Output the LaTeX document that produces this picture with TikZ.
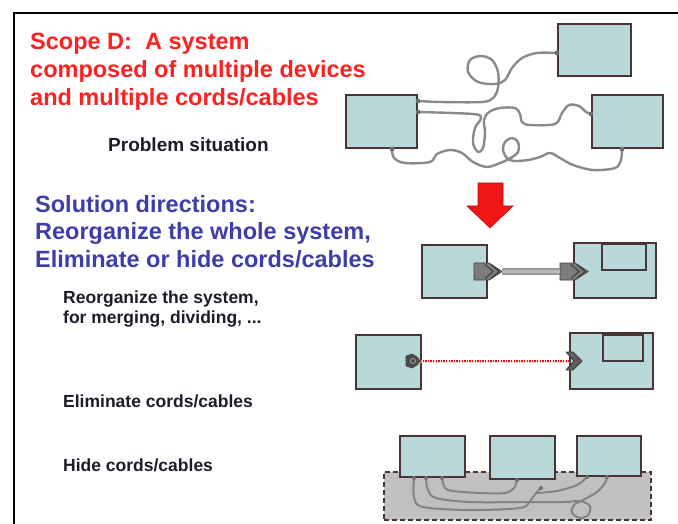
\documentclass[tikz,border=0pt]{standalone}
\usepackage{fontspec}
\setmainfont{Liberation Sans}
\usetikzlibrary{backgrounds,calc}

\definecolor{devfill}{RGB}{184,216,218}
\definecolor{devline}{RGB}{72,52,52}
\definecolor{cable}{RGB}{138,138,138}
\definecolor{titlered}{RGB}{255,32,32}
\definecolor{dirblue}{RGB}{62,62,168}
\definecolor{note}{RGB}{30,28,40}
\definecolor{hidegray}{RGB}{192,192,192}
\definecolor{plugfill}{RGB}{125,125,125}
\definecolor{plugline}{RGB}{66,56,56}
\definecolor{arrowred}{RGB}{240,22,22}

\tikzset{
  device/.style={draw=devline, fill=devfill, line width=2pt, inner sep=0pt},
  hider/.style={draw=devline, fill=hidegray, line width=1.6pt, dash pattern=on 5pt off 3pt, inner sep=0pt},
  cord/.style={draw=cable, line width=2.4pt, line cap=round, line join=round},
  thincord/.style={draw=cable!95!black, line width=2pt, line cap=round, line join=round},
  cordend/.style={fill=cable!80!black},
  headline/.style={anchor=base west, inner sep=0pt, text=titlered, font=\fontsize{23.5}{28}\selectfont\bfseries},
  dirline/.style={anchor=base west, inner sep=0pt, text=dirblue, font=\fontsize{23.5}{28}\selectfont\bfseries},
  caption/.style={anchor=base west, inner sep=0pt, text=note, font=\fontsize{17.5}{20}\selectfont\bfseries},
  plugpic/.pic={
    \filldraw[fill=plugfill, draw=plugline, line width=0.8pt]
      (0,-8.5) -- (15,-8.5) -- (28,0) -- (15,8.5) -- (0,8.5) -- cycle;
    \draw[plugline, line width=1pt, line join=round]
      (11,-7) -- (19,0) -- (11,7) (17,-7) -- (25,0) -- (17,7);
    \coordinate (-tip) at (28,0);
    \coordinate (-base) at (0,0);
  },
  jackpic/.pic={
    \filldraw[fill=plugfill!60!black, draw=plugline, line width=0.6pt]
      (0,-5) -- (6,-7) -- (11,-4) -- (14,0) -- (11,4) -- (6,7) -- (0,5) -- cycle;
    \draw[gray!70, line width=0.8pt] (7,0) circle (2.5pt);
    \coordinate (-tip) at (14,0);
  },
  chevpic/.pic={
    \filldraw[fill=plugfill!75!black, draw=plugline, line width=0.8pt, line join=round]
      (0,-9) -- (7,-9) -- (16,0) -- (7,9) -- (0,9) -- (8,0) -- cycle;
    \coordinate (-base) at (4,0);
  },
}

\begin{document}
\begin{tikzpicture}[x=1pt,y=-1pt]
\useasboundingbox (0,0) rectangle (678,524);

% ---- frame ----
\draw[line width=1.6pt, black] (14,524) -- (14,13) -- (678,13);

% ---- headings and captions ----
\node[headline] (h1) at (30,50) {Scope D:\ \ A system};
\node[headline] (h2) at (30,77.5) {composed of multiple devices};
\node[headline] (h3) at (30,105.5) {and multiple cords/cables};

\node[caption, font=\fontsize{19}{22}\selectfont\bfseries] (ps) at (108,152) {Problem situation};

\node[dirline] (d1) at (35,212) {Solution directions:};
\node[dirline] (d2) at (35,239.5) {Reorganize the whole system,};
\node[dirline] (d3) at (35,267) {Eliminate or hide cords/cables};

\node[caption] (c1) at (63,303) {Reorganize the system,};
\node[caption] (c2) at (63,323) {for merging, dividing, ...};
\node[caption] (c3) at (63,407) {Eliminate cords/cables};
\node[caption] (c4) at (63,471) {Hide cords/cables};

% ---- problem situation: three devices, tangled cords ----
\node[device, minimum width=73pt, minimum height=52pt] (A) at (594.5,50) {};
\node[device, minimum width=71pt, minimum height=53pt] (B) at (381.5,121.5) {};
\node[device, minimum width=71pt, minimum height=53pt] (C) at (627.5,121.5) {};

\coordinate (a1) at ($(A.west)+(0,3)$);
\coordinate (b1) at ($(B.north east)+(0,7)$);
\coordinate (b2) at ($(B.north east)+(0,18)$);
\coordinate (b3) at ($(B.south west)+(47,0)$);
\coordinate (cc1) at ($(C.north west)+(0,20)$);
\coordinate (cc2) at ($(C.south west)+(31,0)$);

% ---- reorganize: two devices joined by a plug cable ----
\node[device, minimum width=65pt, minimum height=53pt] (D) at (454.5,271.5) {};
\node[device, minimum width=82pt, minimum height=55pt] (E) at (615,270.5) {};
\node[device, minimum width=44pt, minimum height=26pt] (E2) at (624,257) {};

% ---- eliminate: wireless link ----
\node[device, minimum width=65pt, minimum height=54pt] (F) at (388.5,362) {};
\node[device, minimum width=83pt, minimum height=56pt] (G) at (611.5,361) {};
\node[device, minimum width=40pt, minimum height=26pt] (G2) at (623,348) {};

% ---- hide: three devices on a hidden tray ----
\node[device, minimum width=65pt, minimum height=41pt] (H) at (432.5,456.5) {};
\node[device, minimum width=65pt, minimum height=43pt] (I) at (522.5,457.5) {};
\node[device, minimum width=64pt, minimum height=40pt] (J) at (609,456) {};

\coordinate (hp1) at ($(H.south west)+(15,0)$);
\coordinate (hp2) at ($(H.south west)+(27,0)$);
\coordinate (hp3) at ($(H.south west)+(43,0)$);
\coordinate (ip1) at ($(I.south west)+(28,0)$);
\coordinate (jp1) at ($(J.south west)+(11,0)$);
\coordinate (jp2) at ($(J.south west)+(31,0)$);
\coordinate (split) at (536,493);
\coordinate (loose) at (541,488);

\begin{pgfonlayer}{background}
  \fill[white] (0,0) rectangle (678,524);
  \node[hider, minimum width=267pt, minimum height=48pt] (K) at (517.5,496) {};

  % tangled cords
  \draw[cord] plot[smooth, tension=0.55] coordinates {(a1) (537,53) (522,58) (512,68) (505,80) (495,84) (478,82) (468,72) (470,60) (481,56) (492,60) (498,72) (498,88) (493,98) (482,102) (440,102) (b1)};
  \draw[cord] plot[smooth, tension=0.55] coordinates {(b2) (473,114) (481,118) (475,128) (473,143) (478,152) (483,148) (485,133) (484,120) (489,112) (500,108) (515,108) (520,114) (522,122) (530,125) (555,124) (562,113) (569,105) (579,106) (586,112) (cc1)};
  \draw[cord] plot[smooth, tension=0.55] coordinates {(b3) (394,158) (405,163) (430,162) (437,154) (450,150) (462,153) (473,162) (487,167) (500,163) (509,159) (518,152) (518,142) (512,138) (505,142) (503,150) (507,158) (514,161) (528,160) (540,157) (550,153) (560,158) (573,165) (593,170) (615,168) (621,160) (cc2)};

  % cords routed inside the tray
  \draw[thincord] plot[smooth, tension=0.55] coordinates {(hp3) (445,488) (453,491) (480,493) (505,493) (514,488) (ip1)};
  \draw[thincord] plot[smooth, tension=0.55] coordinates {(hp2) (428,490) (436,498) (470,502) (527,502) (565,502) (580,501) (590,506) (588,515) (580,518) (572,513) (574,505) (585,499) (597,492) (605,483) (jp2)};
  \draw[thincord] plot[smooth, tension=0.55] coordinates {(hp1) (414,497) (423,507) (470,510) (520,508) (530,501) (split) (loose)};
  \draw[thincord] plot[smooth, tension=0.55] coordinates {(split) (557,491) (577,485) (jp1)};
\end{pgfonlayer}

% cord end dots
\foreach \p in {a1,b1,b2,b3,cc1,cc2} \fill[cordend] (\p) circle (2.4pt);
\foreach \p in {hp1,hp2,hp3,ip1,jp1,jp2,loose} \fill[cordend] (\p) circle (2pt);

% ---- red down arrow ----
\filldraw[fill=arrowred, draw=arrowred!75!black, line width=0.6pt]
  (478,183) -- (503,183) -- (503,206) -- (513,206) -- (490,228) -- (467,206) -- (478,206) -- cycle;

% ---- plug cable ----
\pic (pa) at (474,271.5) {plugpic};
\pic (pb) at (560,271.5) {plugpic};
\draw[line width=7pt, draw=gray!80] (pa-tip) -- (pb-base);
\draw[line width=3pt, draw=gray!55] (pa-tip) -- (pb-base);

% ---- wireless link ----
\pic (jk) at (406,361) {jackpic};
\pic (ch) at (566,361) {chevpic};
\draw[line width=3pt, draw=red!20, opacity=0.7] (jk-tip) -- (ch-base);
\draw[line width=1.4pt, draw=red!80!black!90, dash pattern=on 1.3pt off 1.3pt] (jk-tip) -- (ch-base);

\end{tikzpicture}
\end{document}
